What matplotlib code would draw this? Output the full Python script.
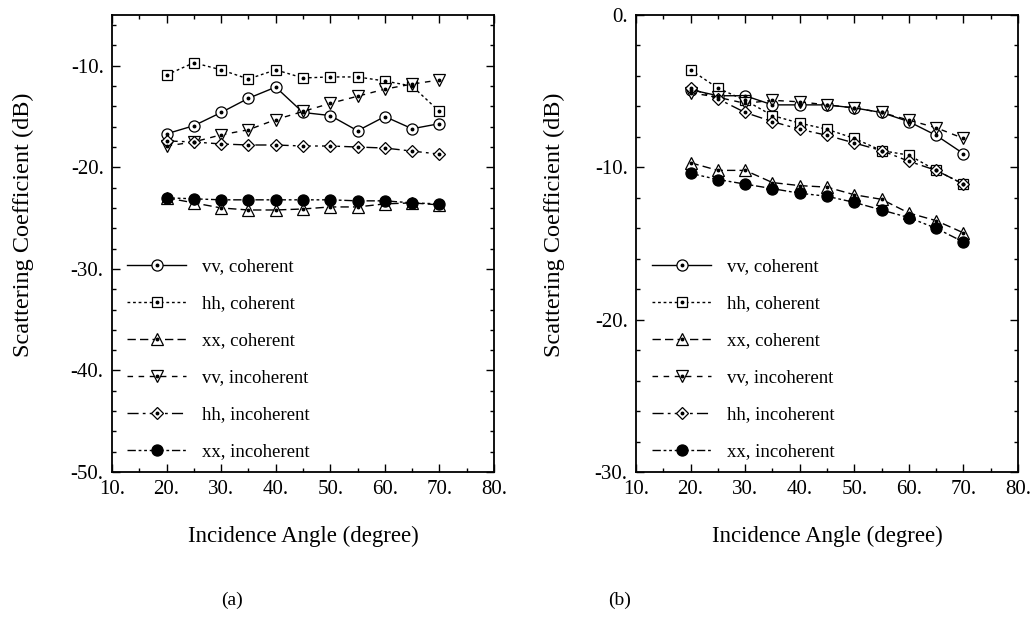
import matplotlib
matplotlib.use("Agg")
import matplotlib.pyplot as plt
from matplotlib.ticker import MultipleLocator, FuncFormatter
from matplotlib.legend_handler import HandlerTuple

plt.rcParams['font.family'] = ['Liberation Serif', 'DejaVu Serif']

angles = [20, 25, 30, 35, 40, 45, 50, 55, 60, 65, 70]

# Panel (a)
a_vv_coh = [-16.7, -15.9, -14.6, -13.2, -12.1, -14.6, -14.9, -16.4, -15.0, -16.2, -15.7]
a_hh_coh = [-10.9, -9.7, -10.4, -11.3, -10.4, -11.2, -11.1, -11.1, -11.5, -12.0, -14.5]
a_xx_coh = [-23.0, -23.5, -24.0, -24.2, -24.2, -24.1, -23.9, -23.9, -23.6, -23.5, -23.7]
a_vv_inc = [-17.9, -17.5, -16.8, -16.3, -15.3, -14.5, -13.7, -13.0, -12.3, -11.8, -11.4]
a_hh_inc = [-17.4, -17.5, -17.7, -17.8, -17.8, -17.9, -17.9, -18.0, -18.1, -18.4, -18.7]
a_xx_inc = [-23.0, -23.1, -23.2, -23.2, -23.2, -23.2, -23.2, -23.3, -23.3, -23.5, -23.6]

# Panel (b)
b_vv_coh = [-4.9, -5.3, -5.3, -5.9, -5.9, -5.9, -6.1, -6.4, -7.0, -7.9, -9.1]
b_hh_coh = [-3.6, -4.8, -5.6, -6.6, -7.1, -7.5, -8.1, -8.9, -9.2, -10.2, -11.1]
b_xx_coh = [-9.7, -10.2, -10.2, -11.0, -11.2, -11.3, -11.8, -12.1, -13.0, -13.5, -14.3]
b_vv_inc = [-5.1, -5.4, -5.8, -5.6, -5.7, -5.9, -6.1, -6.4, -6.9, -7.4, -8.1]
b_hh_inc = [-4.8, -5.5, -6.4, -7.0, -7.5, -7.9, -8.4, -8.9, -9.6, -10.2, -11.1]
b_xx_inc = [-10.4, -10.8, -11.1, -11.4, -11.7, -11.9, -12.3, -12.8, -13.3, -14.0, -14.9]

labels = ["vv, coherent", "hh, coherent", "xx, coherent",
          "vv, incoherent", "hh, incoherent", "xx, incoherent"]

styles = [
    dict(ls='-', marker='o', ms=8, filled=False),
    dict(ls=(0, (2, 2)), marker='s', ms=7, filled=False),
    dict(ls=(0, (6, 3)), marker='^', ms=8, filled=False),
    dict(ls=(0, (4, 4)), marker='v', ms=8, filled=False),
    dict(ls=(0, (8, 3, 2, 3)), marker='D', ms=6.5, filled=False),
    dict(ls=(0, (6, 2, 2, 2, 2, 2)), marker='o', ms=8, filled=True),
]

fig = plt.figure(figsize=(10.32, 6.29), dpi=100)
W, H = 1032, 629
bot = (H - 472) / H
top = (H - 15) / H
ax1 = fig.add_axes([112 / W, bot, (494 - 112) / W, top - bot])
ax2 = fig.add_axes([636 / W, bot, (1018 - 636) / W, top - bot])

fmt = FuncFormatter(lambda v, p: "%d." % round(v))


def draw(ax, series, ylim, legend_x, ylab_x):
    handles = []
    for ys, st, lab in zip(series, styles, labels):
        face = 'black' if st['filled'] else 'white'
        ln, = ax.plot(angles, ys, color='black', lw=1.0, ls=st['ls'],
                      marker=st['marker'], ms=st['ms'], mfc=face, mec='black',
                      mew=0.9, zorder=3)
        if not st['filled']:
            dt, = ax.plot(angles, ys, ls='none', marker='o', ms=1.8,
                          mfc='black', mec='black', zorder=4)
            handles.append((ln, dt))
        else:
            handles.append((ln,))
    ax.set_xlim(10, 80)
    ax.set_ylim(*ylim)
    ax.xaxis.set_major_locator(MultipleLocator(10))
    ax.xaxis.set_minor_locator(MultipleLocator(5))
    ax.yaxis.set_major_locator(MultipleLocator(10))
    ax.yaxis.set_minor_locator(MultipleLocator(2))
    ax.xaxis.set_major_formatter(fmt)
    ax.yaxis.set_major_formatter(fmt)
    ax.tick_params(which='both', direction='in', top=True, right=True,
                   labelsize=15, width=1.0, pad=6)
    ax.tick_params(which='major', length=6)
    ax.tick_params(which='minor', length=3)
    for s in ax.spines.values():
        s.set_linewidth(1.3)
    ax.set_xlabel("Incidence Angle (degree)", fontsize=16.5, labelpad=19)
    ax.set_ylabel("Scattering Coefficient (dB)", fontsize=17.5)
    ax.yaxis.set_label_coords(ylab_x, 0.54)
    leg = ax.legend(handles, labels, loc='upper left',
                    bbox_to_anchor=(legend_x / W, (H - 258) / H),
                    bbox_transform=fig.transFigure,
                    frameon=False, fontsize=13.5, handlelength=3.15,
                    handletextpad=0.85, labelspacing=1.06, borderpad=0,
                    borderaxespad=0, numpoints=1,
                    handler_map={tuple: HandlerTuple(ndivide=1)})
    return leg


draw(ax1, [a_vv_coh, a_hh_coh, a_xx_coh, a_vv_inc, a_hh_inc, a_xx_inc],
     (-50, -5), 127, -0.205)
draw(ax2, [b_vv_coh, b_hh_coh, b_xx_coh, b_vv_inc, b_hh_inc, b_xx_inc],
     (-30, 0), 652, -0.185)

fig.text(232 / W, (H - 600) / H, "(a)", fontsize=14, ha='center', va='center')
fig.text(620 / W, (H - 600) / H, "(b)", fontsize=14, ha='center', va='center')

fig.savefig("out.png", dpi=100)
